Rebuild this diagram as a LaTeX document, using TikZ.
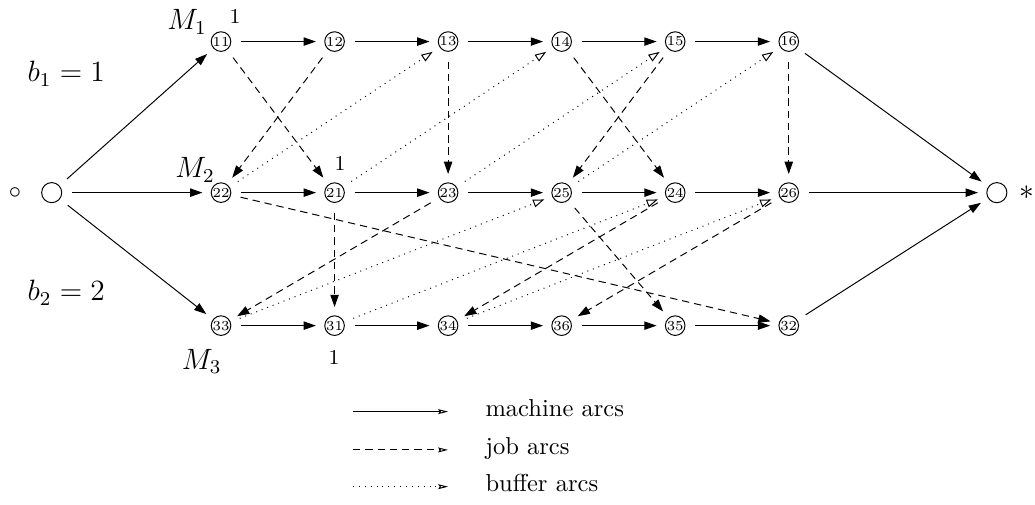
\documentclass[tikz,border=0pt]{standalone}
\usetikzlibrary{arrows.meta,positioning}

\tikzset{
  op/.style={circle,draw,inner sep=0pt,minimum size=8pt,font=\fontsize{5.6}{6}\selectfont},
  terminal/.style={circle,draw,inner sep=0pt,minimum size=8.2pt},
  tag/.style={font=\large},
  mark1/.style={font=\fontsize{8.6}{10}\selectfont},
  marc/.style={-{Triangle[length=5pt,width=3.4pt]},shorten <=4pt,shorten >=3.4pt},
  jarc/.style={marc,dash pattern=on 3pt off 2pt},
  barc/.style={dotted,-{Triangle[open,length=4.6pt,width=3.2pt]},shorten <=4pt,shorten >=3.4pt},
  keytip/.style={-{Stealth[open,length=4pt,width=2pt,inset=0.6pt]}},
}

\begin{document}
\begin{tikzpicture}
  \useasboundingbox (0,0) rectangle (14.84,7.24);

  % the three machines, operations in processing order
  \foreach \lab [count=\i] in {11,12,13,14,15,16}
    \node[op] (n\lab) at ({1.541+1.628*\i},6.644) {\lab};
  \foreach \lab [count=\i] in {22,21,23,25,24,26}
    \node[op] (n\lab) at ({1.541+1.628*\i},4.478) {\lab};
  \foreach \lab [count=\i] in {33,31,34,36,35,32}
    \node[op] (n\lab) at ({1.541+1.628*\i},2.571) {\lab};

  % source and sink
  \node[terminal] (src) at (0.741,4.478) {};
  \node[terminal] (snk) at (14.293,4.478) {};
  \node (srclab) at (0.215,4.478) {$\circ$};
  \node[tag] (snklab) at (14.723,4.478) {$*$};

  % machine names, buffers, release marks
  \node[tag] (m1) at (2.682,6.926) {$M_1$};
  \node[tag] (m2) at (2.796,4.804) {$M_2$};
  \node[tag] (m3) at (2.892,2.055) {$M_3$};
  \node[mark1] (r1) at (3.370,6.998) {1};
  \node[mark1] (r2) at (4.876,4.890) {1};
  \node[mark1] (r3) at (4.790,2.108) {1};
  \node[tag] (b1) at (0.950,6.180) {$b_1 = 1$};
  \node[tag] (b2) at (0.950,3.040) {$b_2 = 2$};

  % machine arcs
  \foreach \a in {11,22,33}
    \draw[marc] (src) -- (n\a);
  \foreach \a/\b in {11/12,12/13,13/14,14/15,15/16,
                     22/21,21/23,23/25,25/24,24/26,
                     33/31,31/34,34/36,36/35,35/32}
    \draw[marc] (n\a) -- (n\b);
  \foreach \a in {16,26,32}
    \draw[marc] (n\a) -- (snk);

  % job arcs
  \foreach \a/\b in {11/21,12/22,13/23,14/24,15/25,16/26,
                     22/32,21/31,23/33,25/35,24/34,26/36}
    \draw[jarc] (n\a) -- (n\b);

  % buffer arcs
  \foreach \a/\b in {22/13,21/14,23/15,25/16,33/25,31/24,34/26}
    \draw[barc] (n\a) -- (n\b);

  % legend
  \coordinate (k1a) at (5.062,1.338);
  \coordinate (k1b) at (6.424,1.338);
  \coordinate (k2a) at (5.062,0.789);
  \coordinate (k2b) at (6.424,0.789);
  \coordinate (k3a) at (5.062,0.262);
  \coordinate (k3b) at (6.424,0.262);
  \draw[keytip] (k1a) -- (k1b);
  \draw[keytip,dash pattern=on 3pt off 2pt] (k2a) -- (k2b);
  \draw[keytip,dotted] (k3a) -- (k3b);
  \node[anchor=base west,inner sep=0pt] (t1) at (6.955,1.266) {machine arcs};
  \node[anchor=base west,inner sep=0pt] (t2) at (6.955,0.717) {job arcs};
  \node[anchor=base west,inner sep=0pt] (t3) at (6.955,0.191) {buffer arcs};
\end{tikzpicture}
\end{document}
